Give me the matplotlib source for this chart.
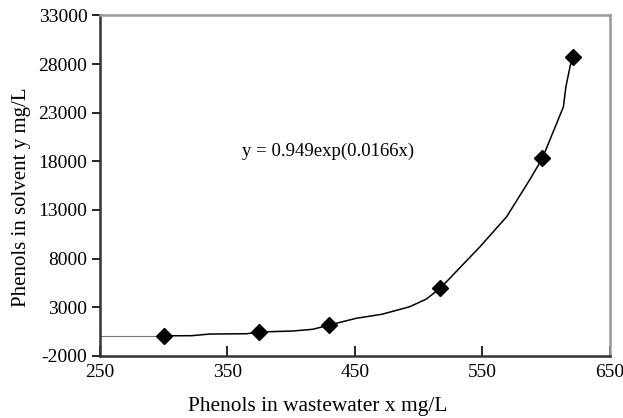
import matplotlib
matplotlib.use('Agg')
import matplotlib.pyplot as plt

plt.rcParams['font.family'] = ['Liberation Serif', 'DejaVu Serif']
plt.rcParams['axes.unicode_minus'] = False

# measured points
x_pts = [300, 375, 430, 517, 597, 621]
y_pts = [50, 440, 1160, 4950, 18300, 28700]

# curve
x_curve = [300, 322, 336, 365, 375, 401, 417, 430, 451, 471, 493, 506, 517,
           548, 569, 587, 597, 613.5, 615.5, 619, 621]
y_curve = [50, 60, 230, 260, 440, 540, 720, 1160, 1850, 2260, 3040, 3830, 4950,
           9200, 12300, 16080, 18300, 23600, 25700, 27900, 28700]

# thin lead-in from the axis
x_lead = [250, 300]
y_lead = [50, 50]

xticks = [250, 350, 450, 550, 650]
yticks = [-2000, 3000, 8000, 13000, 18000, 23000, 28000, 33000]

fig = plt.figure(figsize=(6.23, 4.18), dpi=100)
ax = fig.add_axes([0.1605, 0.149, 0.8185, 0.814])

ax.plot(x_lead, y_lead, color='#777777', lw=0.8)
ax.plot(x_curve, y_curve, color='black', lw=1.1)
ax.plot(x_pts, y_pts, 'D', color='black', ms=8.5, ls='none')

ax.set_xlim(250, 650)
ax.set_ylim(-2000, 33000)
ax.set_xticks(xticks)
ax.set_yticks(yticks)
ax.tick_params(axis='x', direction='in', length=7, width=1.2, labelsize=14, pad=6)
ax.tick_params(axis='y', direction='out', length=6, width=1.2, labelsize=14, pad=3)

for s in ['left', 'bottom']:
    ax.spines[s].set_color('#333333')
    ax.spines[s].set_linewidth(1.8)
for s in ['top', 'right']:
    ax.spines[s].set_color('#999999')
    ax.spines[s].set_linewidth(1.8)

ax.set_xlabel('Phenols in wastewater x mg/L', fontsize=15.4)
ax.set_ylabel('Phenols in solvent y mg/L', fontsize=15)
ax.xaxis.set_label_coords(0.427, -0.12)
ax.yaxis.set_label_coords(-0.135, 0.465)

ax.text(0.448, 0.60, 'y = 0.949exp(0.0166x)', transform=ax.transAxes,
        ha='center', va='center', fontsize=13.5)

fig.savefig('out.png', dpi=100)
